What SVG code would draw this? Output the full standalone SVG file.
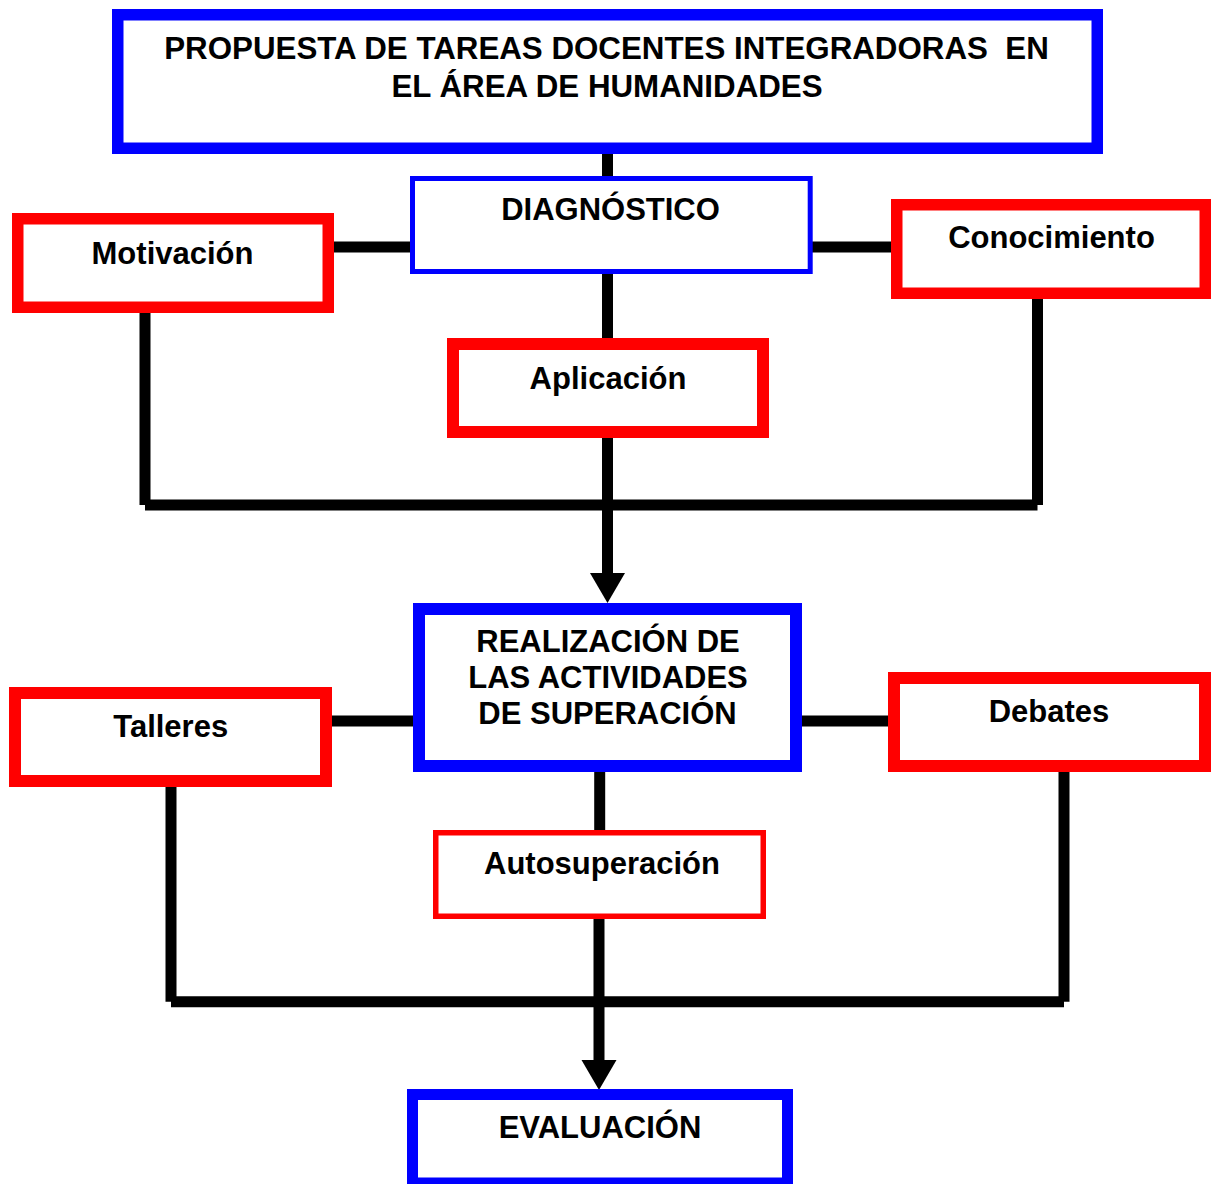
<svg xmlns="http://www.w3.org/2000/svg" width="1211" height="1184" viewBox="0 0 1211 1184">
<style>
.box{fill:#fff}
.blue{stroke:#0000ff}
.red{stroke:#ff0000}
.lbl{font-family:"Liberation Sans",Arial,sans-serif;font-weight:bold;font-size:31px;fill:#000;text-anchor:middle}
.conn line,.conn polyline{stroke:#000;stroke-width:11;fill:none}
.conn polygon{fill:#000}
</style>
<rect width="1211" height="1184" fill="#fff"/>
<g id="connectors" class="conn">
<line x1="607.5" y1="154" x2="607.5" y2="177"/>
<line x1="334" y1="247" x2="411" y2="247"/>
<line x1="812" y1="247" x2="892" y2="247"/>
<line x1="607.5" y1="273" x2="607.5" y2="339"/>
<line x1="145" y1="312" x2="145" y2="505"/>
<line x1="1037.5" y1="298" x2="1037.5" y2="505"/>
<line x1="145" y1="505" x2="1037.5" y2="505"/>
<line x1="607.5" y1="437" x2="607.5" y2="576"/>
<polygon points="590,573 625,573 607.5,603"/>
<line x1="599.7" y1="771" x2="599.7" y2="831"/>
<line x1="331" y1="721" x2="414" y2="721"/>
<line x1="801" y1="721" x2="889" y2="721"/>
<line x1="171" y1="786" x2="171" y2="1001.7"/>
<line x1="1064" y1="771" x2="1064" y2="1001.7"/>
<line x1="171" y1="1001.7" x2="1064" y2="1001.7"/>
<line x1="599" y1="918" x2="599" y2="1063"/>
<polygon points="581.5,1060 616.5,1060 599,1090"/>
</g>
<g id="propuesta">
<rect class="box blue" x="117.75" y="14.75" width="979.5" height="133.5" stroke-width="11.5"/>
<text class="lbl" style="font-size:31.3px;white-space:pre" x="606.5" y="59.3">PROPUESTA DE TAREAS DOCENTES INTEGRADORAS  EN</text>
<text class="lbl" style="font-size:31.3px" x="607" y="96.5">EL ÁREA DE HUMANIDADES</text>
</g>
<g id="diagnostico">
<rect class="box blue" x="412.5" y="178.5" width="397.7" height="93" stroke-width="5"/>
<text class="lbl" x="610.5" y="220">DIAGNÓSTICO</text>
</g>
<g id="motivacion">
<rect class="box red" x="17.75" y="218.75" width="310.5" height="88.5" stroke-width="11.5"/>
<text class="lbl" x="172.5" y="264">Motivación</text>
</g>
<g id="conocimiento">
<rect class="box red" x="896.75" y="204.75" width="308.5" height="88.5" stroke-width="11.5"/>
<text class="lbl" x="1051.5" y="248">Conocimiento</text>
</g>
<g id="aplicacion">
<rect class="box red" x="453" y="344" width="310" height="88" stroke-width="12"/>
<text class="lbl" x="608" y="389">Aplicación</text>
</g>
<g id="realizacion">
<rect class="box blue" x="419" y="609" width="377" height="157" stroke-width="12"/>
<text class="lbl" x="608" y="652">REALIZACIÓN DE</text>
<text class="lbl" x="608" y="688">LAS ACTIVIDADES</text>
<text class="lbl" x="607.5" y="724">DE SUPERACIÓN</text>
</g>
<g id="talleres">
<rect class="box red" x="15" y="693" width="311" height="88" stroke-width="12"/>
<text class="lbl" x="170.7" y="737">Talleres</text>
</g>
<g id="debates">
<rect class="box red" x="894" y="678" width="311" height="88" stroke-width="12"/>
<text class="lbl" x="1049" y="722">Debates</text>
</g>
<g id="autosuperacion">
<rect class="box red" x="435.75" y="832.75" width="327.5" height="83.5" stroke-width="5.5"/>
<text class="lbl" x="602" y="874">Autosuperación</text>
</g>
<g id="evaluacion">
<rect class="box blue" x="412.5" y="1094.5" width="375" height="88.5" stroke-width="11"/>
<text class="lbl" x="600" y="1138">EVALUACIÓN</text>
</g>
</svg>
